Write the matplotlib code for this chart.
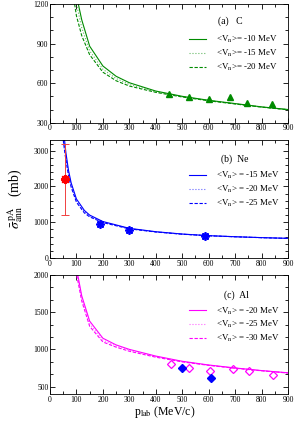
import numpy as np
import matplotlib
matplotlib.use("Agg")
import matplotlib.pyplot as plt
from matplotlib.ticker import MultipleLocator, AutoMinorLocator

plt.rcParams['font.family'] = ['Liberation Serif', 'DejaVu Serif']
plt.rcParams['mathtext.fontset'] = 'stix'

# ---- panel (a) C ----
a_p_solid = [107, 120, 150, 200, 250, 300, 400, 500, 600, 700, 800, 900]
a_v_solid = [1200, 1080, 880, 730, 652, 603, 540, 500, 470, 445, 420, 400]
a_p_dot = [100, 120, 150, 200, 250, 300, 400, 500, 600, 700, 800, 900]
a_v_dot = [1200, 1020, 845, 705, 635, 590, 535, 497, 468, 443, 419, 399]
a_p_dash = [93, 100, 120, 150, 200, 250, 300, 400, 500, 600, 700, 800, 900]
a_v_dash = [1200, 1110, 960, 815, 683, 618, 578, 530, 495, 466, 442, 418, 398]
a_exp_p = [450, 525, 601, 682, 746, 840]
a_exp_v = [515, 497, 482, 495, 447, 440]
a_labels = [r'<V$_\mathrm{n}$>= -10 MeV', r'<V$_\mathrm{n}$>= -15 MeV', r'<V$_\mathrm{n}$>= -20 MeV']

# ---- panel (b) Ne ----
b_p_solid = [55, 60, 70, 80, 100, 130, 150, 200, 300, 400, 500, 600, 700, 800, 900]
b_v_solid = [3300, 2950, 2450, 2100, 1650, 1330, 1200, 1020, 830, 735, 670, 625, 595, 570, 550]
b_p_dot = [52, 55, 60, 70, 80, 100, 130, 150, 200, 300, 400, 500, 600, 700, 800, 900]
b_v_dot = [3300, 3150, 2850, 2380, 2040, 1600, 1295, 1175, 1005, 822, 731, 667, 623, 594, 569, 549]
b_p_dash = [50, 55, 60, 70, 80, 100, 130, 150, 200, 300, 400, 500, 600, 700, 800, 900]
b_v_dash = [3300, 3000, 2750, 2300, 1980, 1560, 1260, 1150, 990, 815, 727, 665, 622, 593, 568, 548]
b_exp_p = [189, 298, 586]
b_exp_v = [945, 780, 610]
b_red_p = [57]
b_red_v = [2206]
b_red_lo = [1214]
b_red_hi = [3187]
b_labels = [r'<V$_\mathrm{n}$> = -15 MeV', r'<V$_\mathrm{n}$> = -20 MeV', r'<V$_\mathrm{n}$> = -25 MeV']

# ---- panel (c) Al ----
c_p_solid = [105, 120, 150, 200, 250, 300, 400, 500, 600, 700, 800, 900]
c_v_solid = [2000, 1720, 1380, 1150, 1060, 1000, 910, 840, 790, 750, 715, 685]
c_p_dot = [103, 120, 150, 200, 250, 300, 400, 500, 600, 700, 800, 900]
c_v_dot = [2000, 1690, 1345, 1125, 1045, 988, 902, 836, 787, 748, 713, 683]
c_p_dash = [101, 120, 150, 200, 250, 300, 400, 500, 600, 700, 800, 900]
c_v_dash = [2000, 1650, 1310, 1100, 1030, 975, 895, 832, 785, 746, 712, 682]
c_open_p = [457, 525, 604, 692, 752, 845]
c_open_v = [804, 745, 714, 737, 714, 657]
c_blue_p = [498, 610]
c_blue_v = [750, 611]
c_labels = [r'<V$_\mathrm{n}$> = -20 MeV', r'<V$_\mathrm{n}$> = -25 MeV', r'<V$_\mathrm{n}$> = -30 MeV']

green = '#008b00'
blue = '#0000ff'
magenta = '#ff00ff'
red = '#ff0000'

fig = plt.figure(figsize=(2.96, 4.23), dpi=100)
W, H = 296.0, 423.0
left, right = 50 / W, 288 / W


def make_axes(top_px, bot_px):
    return fig.add_axes([left, 1 - bot_px / H, right - left, (bot_px - top_px) / H])


def style(ax, ylim, ymaj, ysub):
    ax.set_xlim(0, 900)
    ax.set_ylim(*ylim)
    ax.xaxis.set_major_locator(MultipleLocator(100))
    ax.xaxis.set_minor_locator(AutoMinorLocator(2))
    ax.yaxis.set_major_locator(MultipleLocator(ymaj))
    ax.yaxis.set_minor_locator(AutoMinorLocator(ysub))
    ax.tick_params(which='both', direction='in', top=True, right=True,
                   labelsize=5.5, width=0.6, pad=1.2)
    ax.tick_params(which='major', length=3.5)
    ax.tick_params(which='minor', length=2)
    for s in ax.spines.values():
        s.set_linewidth(0.6)


def curves(ax, col, ps, vs, pd, vd, pds, vds, labels):
    h1, = ax.plot(ps, vs, '-', color=col, lw=0.8, label=labels[0])
    h2, = ax.plot(pd, vd, ':', color=col, lw=0.8, alpha=0.6, label=labels[1])
    h3, = ax.plot(pds, vds, color=col, lw=0.8, dashes=(3, 1.5), label=labels[2])
    ax.legend(handles=[h1, h2, h3], loc='upper left', bbox_to_anchor=(0.585, 0.745),
              frameon=False, fontsize=6.4, handlelength=1.9, handletextpad=1.1,
              labelspacing=0.3, borderpad=0, borderaxespad=0)


asterisk = (8, 2, 0)

# (a)
ax1 = make_axes(4, 122.7)
curves(ax1, green, a_p_solid, a_v_solid, a_p_dot, a_v_dot, a_p_dash, a_v_dash, a_labels)
ax1.plot(a_exp_p, a_exp_v, '^', color=green, ms=5, mec=green)
style(ax1, (300, 1200), 300, 3)
ax1.text(0.706, 0.855, '(a)   C', transform=ax1.transAxes, fontsize=7, va='center')

# (b)
ax2 = make_axes(140, 258)
curves(ax2, blue, b_p_solid, b_v_solid, b_p_dot, b_v_dot, b_p_dash, b_v_dash, b_labels)
ax2.plot(b_exp_p, b_exp_v, marker=asterisk, ls='none', color=blue, ms=6, mew=1.3)
yerr = [np.array(b_red_v) - np.array(b_red_lo), np.array(b_red_hi) - np.array(b_red_v)]
ax2.errorbar(b_red_p, b_red_v, yerr=yerr, fmt='none', ecolor='#f04040', lw=0.7,
             capsize=3, capthick=0.7)
ax2.plot(b_red_p, b_red_v, marker=asterisk, ls='none', color=red, ms=6.5, mew=1.4)
style(ax2, (0, 3300), 1000, 5)
ax2.text(0.72, 0.84, '(b)  Ne', transform=ax2.transAxes, fontsize=7, va='center')

# (c)
ax3 = make_axes(275, 394)
curves(ax3, magenta, c_p_solid, c_v_solid, c_p_dot, c_v_dot, c_p_dash, c_v_dash, c_labels)
ax3.plot(c_open_p, c_open_v, 'D', mfc='none', mec=magenta, ms=4.5, mew=0.9)
ax3.plot(c_blue_p, c_blue_v, 'D', color=blue, ms=4.5)
style(ax3, (400, 2000), 500, 3)
ax3.text(0.729, 0.832, '(c)  Al', transform=ax3.transAxes, fontsize=7, va='center')

fig.text(165 / W, 1 - 412 / H, r'p$_\mathrm{lab}$ (MeV/c)', ha='center', va='center', fontsize=8.5)
fig.text(15 / W, 1 - 199 / H, r'$\bar{\sigma}^{\,\mathrm{pA}}_{\mathrm{ann}}$   (mb)',
         rotation=90, ha='center', va='center', fontsize=10)

fig.savefig('out.png', dpi=100)
